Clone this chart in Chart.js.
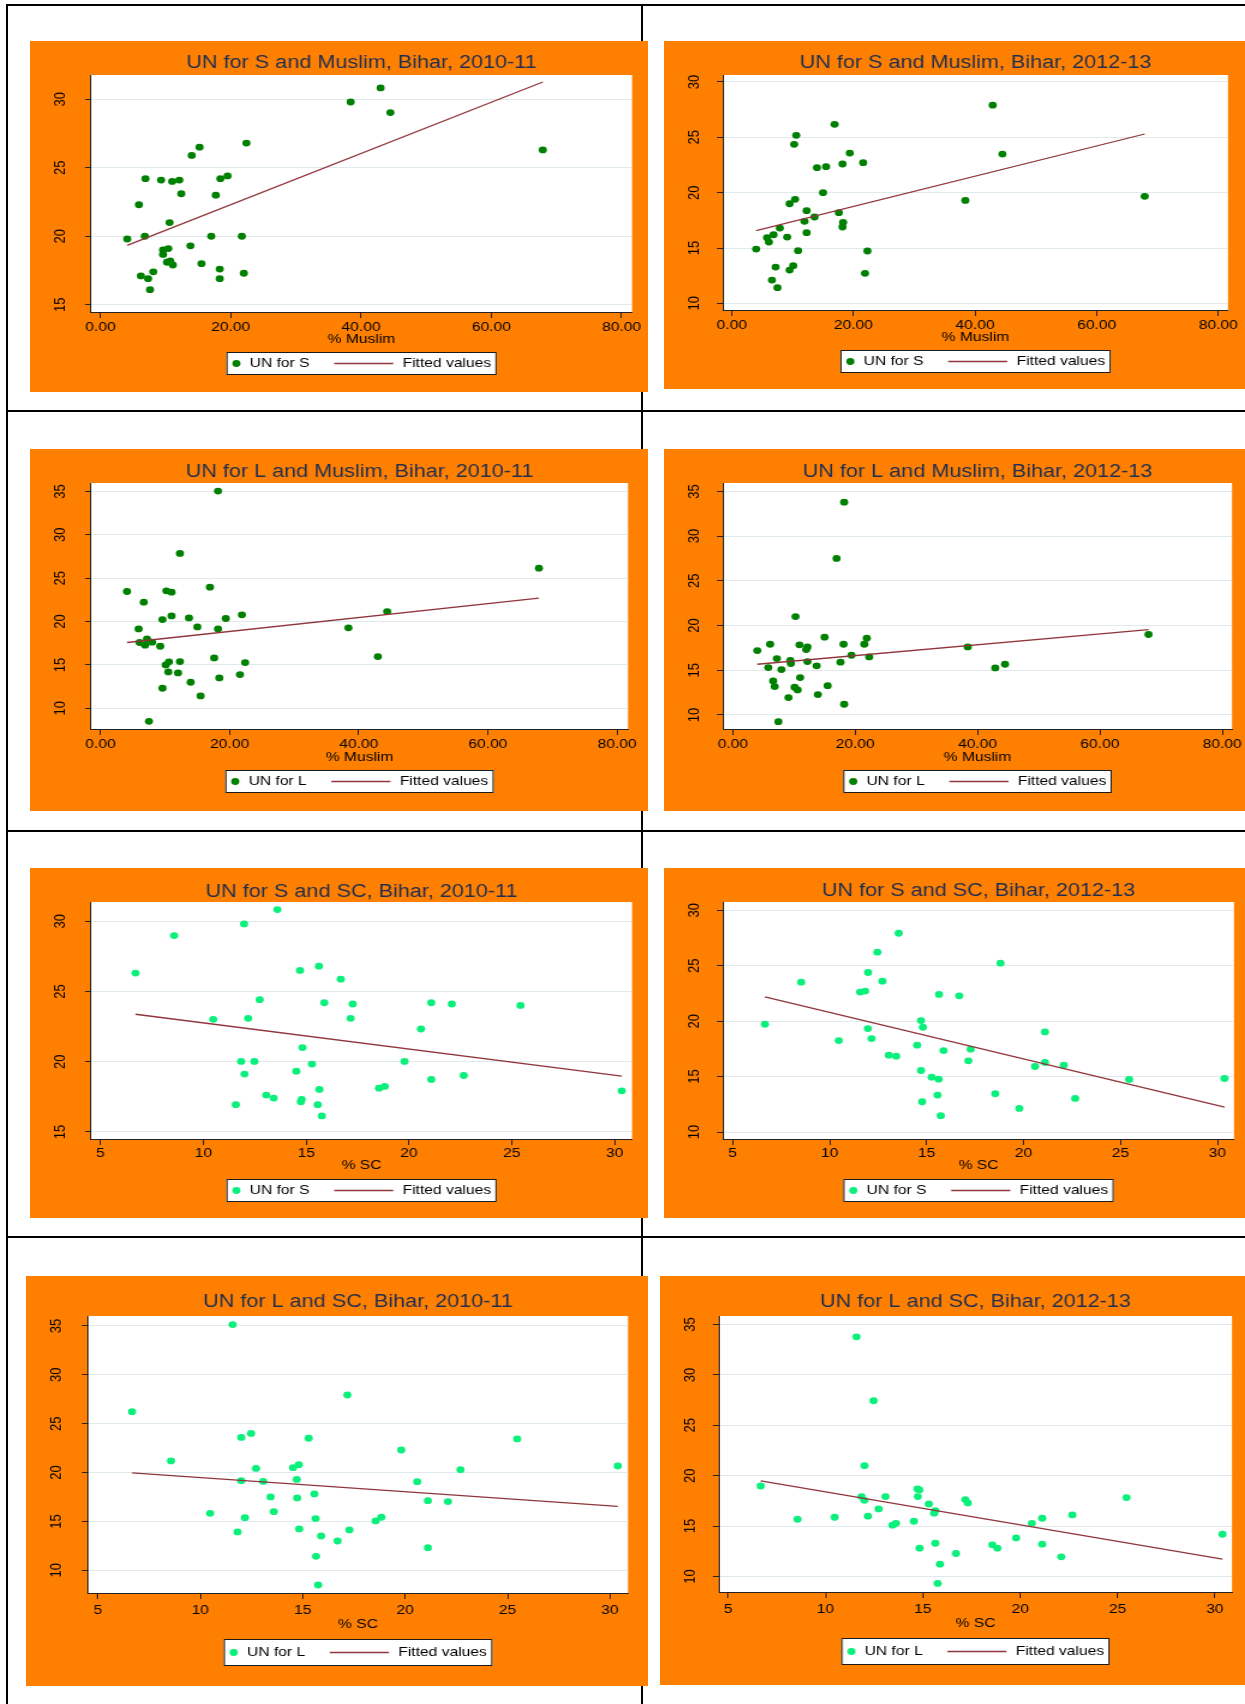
<!DOCTYPE html>
<html>
<head>
<meta charset="utf-8">
<title>Bihar: UN vs % Muslim and % SC</title>
<script src="https://cdn.jsdelivr.net/npm/chart.js@4/dist/chart.umd.min.js"></script>
<style>
  html, body { margin: 0; padding: 0; background: #fff; }
  #page { position: relative; width: 1245px; height: 1704px; overflow: hidden; background: #fff; }
  .rule { position: absolute; background: #000; }
</style>
</head>
<body>
<div id="page">
  <!-- table grid behind the panels -->
  <div class="rule" style="left:6px;top:4px;width:1239px;height:2px"></div>
  <div class="rule" style="left:6px;top:410px;width:1239px;height:2px"></div>
  <div class="rule" style="left:6px;top:830px;width:1239px;height:2px"></div>
  <div class="rule" style="left:6px;top:1236px;width:1239px;height:2px"></div>
  <div class="rule" style="left:6px;top:4px;width:2px;height:1700px"></div>
  <div class="rule" style="left:641px;top:4px;width:2px;height:1700px"></div>
</div>
<script>
// ---------- data ----------
const muslimTicks = [0, 20, 40, 60, 80];
const scTicks = [5, 10, 15, 20, 25, 30];
const yTicks15to30 = [15, 20, 25, 30];
const yTicks10to30 = [10, 15, 20, 25, 30];
const yTicks10to35 = [10, 15, 20, 25, 30, 35];

// UN for S vs % Muslim, 2010-11
const sMuslim1011X = [43.0,38.4,44.5,22.4,67.9,15.2,14.0,6.9,9.3,11.0,12.1,18.4,19.5,12.4,17.7,5.9,10.6,6.8,4.1,17.0,21.7,13.8,9.6,10.4,9.6,10.2,10.7,11.1,15.5,18.3,8.1,6.2,7.3,18.3,22.0,7.6];
const sMuslim1011Y = [30.83,29.8,29.03,26.8,26.3,26.5,25.9,24.2,24.1,24.0,24.1,24.2,24.4,23.1,23.0,22.3,21.0,20.0,19.8,20.0,20.0,19.3,19.0,19.1,18.67,18.1,18.2,17.9,18.0,17.6,17.4,17.1,16.9,16.9,17.3,16.1];
const sMuslim1011FitX = [4.1, 67.9];
const sMuslim1011FitY = [19.33, 31.26];

// UN for S vs % Muslim, 2012-13
const sMuslim1213X = [42.9,16.9,10.6,10.25,44.5,19.4,21.6,18.2,14.0,15.5,15.0,38.4,67.9,10.4,9.5,12.3,17.6,13.6,11.95,18.3,18.2,7.9,12.3,6.86,5.8,6.1,9.1,4.0,10.9,22.3,7.2,10.1,9.5,6.6,21.9,7.5];
const sMuslim1213Y = [27.9,26.17,25.18,24.37,23.49,23.58,22.71,22.59,22.26,22.35,20.0,19.3,19.67,19.4,19.0,18.37,18.19,17.8,17.41,17.32,16.9,16.8,16.39,16.2,15.93,15.54,15.99,14.9,14.76,14.73,13.28,13.4,13.01,12.1,12.71,11.42];
const sMuslim1213FitX = [4.0, 67.9];
const sMuslim1213FitY = [16.57, 25.3];

// UN for L vs % Muslim, 2010-11
const lMuslim1011X = [18.2,12.3,67.9,16.95,4.1,10.2,11.0,6.7,21.9,11.0,44.4,13.7,9.6,19.4,15.0,5.9,18.2,38.4,7.2,6.05,6.9,8.0,9.25,17.6,42.96,10.1,10.6,12.3,22.4,10.5,12.0,21.6,18.4,13.96,9.6,15.5,7.5];
const lMuslim1011Y = [35.04,27.85,26.15,23.96,23.46,23.54,23.38,22.23,20.77,20.65,21.15,20.42,20.23,20.35,19.38,19.15,19.15,19.27,18.0,17.58,17.27,17.62,17.15,15.8,15.96,15.0,15.35,15.38,15.27,14.19,14.08,13.88,13.5,13.0,12.31,11.42,8.5];
const lMuslim1011FitX = [4.1, 67.9];
const lMuslim1011FitY = [17.58, 22.7];

// UN for L vs % Muslim, 2012-13
const lMuslim1213X = [18.2,16.96,10.25,67.95,15.0,21.9,6.1,10.9,18.1,21.5,38.4,4.0,12.2,12.0,19.4,7.2,9.4,22.3,9.5,12.2,17.6,13.7,5.8,7.95,42.9,44.5,11.0,6.6,6.85,10.1,10.6,15.5,13.9,9.1,18.2,7.45];
const lMuslim1213Y = [33.8,27.5,21.0,19.0,18.7,18.58,17.91,17.84,17.91,17.91,17.61,17.2,17.61,17.31,16.68,16.3,16.1,16.49,15.75,15.97,15.9,15.49,15.3,15.08,15.26,15.67,14.18,13.8,13.17,13.1,12.8,13.28,12.28,11.94,11.2,9.25];
const lMuslim1213FitX = [4.0, 67.95];
const lMuslim1213FitY = [15.67, 19.55];

// UN for S vs % SC, 2010-11
const sSC1011X = [13.6,11.98,8.58,6.7,14.7,15.62,16.68,12.74,15.88,17.26,21.08,22.08,25.42,10.48,12.18,17.16,20.58,14.82,11.84,12.48,19.78,15.28,14.52,12.0,21.08,22.66,15.64,18.54,18.82,30.34,13.06,13.42,14.78,14.74,11.58,15.56,15.76];
const sSC1011Y = [30.83,29.81,28.98,26.31,26.5,26.8,25.88,24.42,24.2,24.11,24.2,24.11,24.01,23.02,23.09,23.09,22.33,21.01,20.02,20.02,20.02,19.83,19.33,19.12,18.74,19.02,18.03,18.12,18.24,17.93,17.63,17.41,17.32,17.15,16.94,16.94,16.14];
const sSC1011FitX = [6.7, 30.34];
const sSC1011FitY = [23.38, 18.98];

// UN for S vs % SC, 2012-13
const sSC1213X = [13.56,12.46,18.81,11.98,8.53,12.72,11.57,11.83,15.64,16.68,6.66,14.71,14.81,11.97,21.1,10.47,12.16,14.51,15.87,17.27,13.05,13.43,17.15,21.1,20.59,22.07,14.71,15.26,15.62,25.44,30.36,15.56,18.54,22.66,14.77,19.78,15.73];
const sSC1213Y = [27.93,26.22,25.23,24.39,23.52,23.61,22.62,22.71,22.41,22.29,19.72,20.05,19.45,19.33,19.03,18.25,18.43,17.83,17.35,17.47,16.93,16.84,16.42,16.27,15.91,16.03,15.55,14.95,14.77,14.74,14.83,13.33,13.45,13.03,12.73,12.13,11.47];
const sSC1213FitX = [6.66, 30.36];
const sSC1213FitY = [22.2, 12.25];

// UN for L vs % SC, 2010-11
const lSC1011X = [11.58,17.18,6.67,12.48,12.0,15.29,25.47,19.81,8.57,14.81,14.53,12.72,30.38,22.7,12.0,13.07,14.71,20.59,15.57,13.43,14.73,21.11,22.09,10.48,13.59,12.18,15.63,18.56,18.84,11.82,14.83,17.28,15.9,16.7,21.11,15.65,15.75];
const lSC1011Y = [35.14,27.94,26.23,24.01,23.6,23.51,23.44,22.31,21.19,20.81,20.5,20.43,20.68,20.3,19.17,19.1,19.3,19.07,17.82,17.51,17.41,17.13,17.03,15.83,16.0,15.39,15.29,15.05,15.43,13.93,14.24,14.13,13.51,13.0,12.32,11.43,8.5];
const lSC1011FitX = [6.67, 30.38];
const lSC1011FitY = [19.96, 16.55];

// UN for L vs % SC, 2012-13
const lSC1213X = [11.59,12.47,12.0,6.67,14.72,14.82,11.85,13.08,14.74,12.0,17.18,17.31,25.46,15.31,12.73,15.64,15.58,22.68,12.18,10.47,8.56,21.13,14.54,13.62,13.44,20.6,30.39,19.79,15.64,18.57,21.13,14.83,18.83,16.7,22.11,15.88,15.76];
const lSC1213Y = [33.78,27.44,21.0,18.98,18.69,18.59,17.93,17.93,17.93,17.56,17.63,17.3,17.83,17.2,16.7,16.54,16.28,16.11,15.98,15.88,15.68,15.78,15.48,15.28,15.09,15.28,14.19,13.83,13.3,13.14,13.21,12.81,12.81,12.28,11.95,11.22,9.31];
const lSC1213FitX = [6.67, 30.39];
const lSC1213FitY = [19.48, 11.72];

// ---------- styling ----------
const FONT = '"Liberation Sans", Arial, Helvetica, sans-serif';
const ORANGE = '#ff8000';
const DARK_GREEN = '#008000';
const BRIGHT_GREEN = '#0bef7c';
const MAROON = '#90353b';
const TITLE_COLOR = '#1e2d52';
const GRID = '#e0e9eb';
const AXIS = '#222222';
const STRETCH = 1.2;          // panels are drawn slightly wide
const TITLE_SIZE = 18;
const TEXT_SIZE = 13;
const X_TICK_LEN = 6;
const Y_TICK_LEN = 5;
const POINT_R = 3.4;

// ---------- panel layout (page pixels) ----------
const panels = [
  { title: 'UN for S and Muslim, Bihar, 2010-11', xTitle: '% Muslim', series: 'UN for S', xs: sMuslim1011X, ys: sMuslim1011Y, fitX: sMuslim1011FitX, fitY: sMuslim1011FitY, color: DARK_GREEN, xTicks: muslimTicks, yTicks: yTicks15to30, decimals: 2,
    box: [30, 41, 618, 351], plot: [91, 75, 632, 312], titleY: 63, tickY: 327, axisTitleY: 339, legend: [352, 375], yLabelX: 60, xRange: [-1.46, 81.6], yRange: [14.47, 31.77] },
  { title: 'UN for S and Muslim, Bihar, 2012-13', xTitle: '% Muslim', series: 'UN for S', xs: sMuslim1213X, ys: sMuslim1213Y, fitX: sMuslim1213FitX, fitY: sMuslim1213FitY, color: DARK_GREEN, xTicks: muslimTicks, yTicks: yTicks10to30, decimals: 2,
    box: [664, 41, 581, 348], plot: [723, 75, 1228, 310], titleY: 63, tickY: 325, axisTitleY: 337, legend: [350, 373], yLabelX: 694, xRange: [-1.45, 81.6], yRange: [9.40, 30.63] },
  { title: 'UN for L and Muslim, Bihar, 2010-11', xTitle: '% Muslim', series: 'UN for L', xs: lMuslim1011X, ys: lMuslim1011Y, fitX: lMuslim1011FitX, fitY: lMuslim1011FitY, color: DARK_GREEN, xTicks: muslimTicks, yTicks: yTicks10to35, decimals: 2,
    box: [30, 449, 618, 362], plot: [91, 483, 628, 729], titleY: 472, tickY: 744, axisTitleY: 757, legend: [770, 793], yLabelX: 61, xRange: [-1.47, 81.7], yRange: [7.61, 35.97] },
  { title: 'UN for L and Muslim, Bihar, 2012-13', xTitle: '% Muslim', series: 'UN for L', xs: lMuslim1213X, ys: lMuslim1213Y, fitX: lMuslim1213FitX, fitY: lMuslim1213FitY, color: DARK_GREEN, xTicks: muslimTicks, yTicks: yTicks10to35, decimals: 2,
    box: [664, 449, 581, 362], plot: [723, 483, 1235, 729], titleY: 472, tickY: 744, axisTitleY: 757, legend: [770, 793], yLabelX: 694, xRange: [-1.6, 81.6], yRange: [8.43, 35.94] },
  { title: 'UN for S and SC, Bihar, 2010-11', xTitle: '% SC', series: 'UN for S', xs: sSC1011X, ys: sSC1011Y, fitX: sSC1011FitX, fitY: sSC1011FitY, color: BRIGHT_GREEN, xTicks: scTicks, yTicks: yTicks15to30, decimals: 0,
    box: [30, 868, 618, 350], plot: [91, 902, 632, 1139], titleY: 892, tickY: 1153, axisTitleY: 1165, legend: [1179, 1202], yLabelX: 61, xRange: [4.54, 30.84], yRange: [14.5, 31.37] },
  { title: 'UN for S and SC, Bihar, 2012-13', xTitle: '% SC', series: 'UN for S', xs: sSC1213X, ys: sSC1213Y, fitX: sSC1213FitX, fitY: sSC1213FitY, color: BRIGHT_GREEN, xTicks: scTicks, yTicks: yTicks10to30, decimals: 0,
    box: [664, 868, 581, 350], plot: [723, 902, 1234, 1139], titleY: 891, tickY: 1153, axisTitleY: 1165, legend: [1179, 1202], yLabelX: 694, xRange: [4.5, 30.85], yRange: [9.37, 30.75] },
  { title: 'UN for L and SC, Bihar, 2010-11', xTitle: '% SC', series: 'UN for L', xs: lSC1011X, ys: lSC1011Y, fitX: lSC1011FitX, fitY: lSC1011FitY, color: BRIGHT_GREEN, xTicks: scTicks, yTicks: yTicks10to35, decimals: 0,
    box: [26, 1276, 622, 410], plot: [88, 1316, 628, 1593], titleY: 1302, tickY: 1610, axisTitleY: 1624, legend: [1639, 1666], yLabelX: 56, xRange: [4.52, 30.88], yRange: [7.68, 36.02] },
  { title: 'UN for L and SC, Bihar, 2012-13', xTitle: '% SC', series: 'UN for L', xs: lSC1213X, ys: lSC1213Y, fitX: lSC1213FitX, fitY: lSC1213FitY, color: BRIGHT_GREEN, xTicks: scTicks, yTicks: yTicks10to35, decimals: 0,
    box: [660, 1276, 585, 409], plot: [719, 1316, 1232, 1592], titleY: 1302, tickY: 1609, axisTitleY: 1623, legend: [1638, 1665], yLabelX: 690, xRange: [4.53, 30.88], yRange: [8.46, 35.85] }
];

// ---------- plugins ----------
// orange panel with a white plot region
const panelBackground = {
  id: 'panelBackground',
  beforeDraw(chart) {
    const { ctx, chartArea: a } = chart;
    ctx.save();
    ctx.fillStyle = ORANGE;
    ctx.fillRect(0, 0, chart.width, chart.height);
    ctx.fillStyle = '#ffffff';
    ctx.fillRect(a.left, a.top, a.right - a.left, a.bottom - a.top);
    ctx.restore();
  }
};

// boxed legend below the axis title: marker + label, line + label
const legendBox = {
  id: 'legendBox',
  afterDraw(chart, args, o) {
    const ctx = chart.ctx;
    const [pts, fit] = chart.data.datasets;
    ctx.save();
    ctx.font = `${TEXT_SIZE}px ${FONT}`;
    const w1 = ctx.measureText(pts.label).width;
    const w2 = ctx.measureText(fit.label).width;
    const total = o.padLeft + o.markGap + w1 + o.itemGap + o.lineLen + o.lineGap + w2 + o.padRight;
    const mid = (chart.chartArea.left + chart.chartArea.right) / 2;
    const x0 = mid - total / 2;
    const h = o.bottom - o.top;
    const cy = o.top + h / 2;
    ctx.fillStyle = '#ffffff';
    ctx.fillRect(x0, o.top, total, h);
    ctx.strokeStyle = '#1a1a1a';
    ctx.lineWidth = 1;
    ctx.strokeRect(x0 + 0.5, o.top + 0.5, total - 1, h - 1);
    ctx.fillStyle = pts.pointBackgroundColor;
    ctx.beginPath();
    ctx.arc(x0 + o.padLeft, cy, pts.pointRadius, 0, Math.PI * 2);
    ctx.fill();
    ctx.fillStyle = '#000000';
    ctx.textAlign = 'left';
    ctx.textBaseline = 'middle';
    let x = x0 + o.padLeft + o.markGap;
    ctx.fillText(pts.label, x, cy);
    x += w1 + o.itemGap;
    ctx.strokeStyle = fit.borderColor;
    ctx.lineWidth = fit.borderWidth;
    ctx.beginPath();
    ctx.moveTo(x, cy);
    ctx.lineTo(x + o.lineLen, cy);
    ctx.stroke();
    x += o.lineLen + o.lineGap;
    ctx.fillText(fit.label, x, cy);
    ctx.restore();
  }
};

const measureCtx = document.createElement('canvas').getContext('2d');
function textWidth(text) {
  measureCtx.font = `${TEXT_SIZE}px ${FONT}`;
  return measureCtx.measureText(text).width;
}

Chart.defaults.font.family = FONT;
Chart.defaults.color = '#000000';

const page = document.getElementById('page');

panels.forEach(cfg => {
  const [px, py, pw, ph] = cfg.box;
  const cw = Math.round(pw / STRETCH);
  const sx = pw / cw;
  const toCx = v => (v - px) / sx;

  const plotL = toCx(cfg.plot[0]);
  const plotR = toCx(cfg.plot[2]);
  const plotT = cfg.plot[1] - py;
  const plotB = cfg.plot[3] - py;

  const titlePadTop = (cfg.titleY - py) - TITLE_SIZE / 2;
  const titlePadBottom = plotT - titlePadTop - TITLE_SIZE;
  const xTickPad = (cfg.tickY - cfg.plot[3]) - X_TICK_LEN - TEXT_SIZE / 2;
  const xAxisH = (cfg.axisTitleY - cfg.plot[3]) + TEXT_SIZE / 2;
  const padBottom = ph - plotB - xAxisH;
  const widest = Math.max(...cfg.yTicks.map(v => textWidth(String(v))));
  const yTickPad = (plotL - toCx(cfg.yLabelX)) - Y_TICK_LEN - widest / 2;

  const canvas = document.createElement('canvas');
  canvas.width = cw;
  canvas.height = ph;
  canvas.style.cssText = `position:absolute;left:${px}px;top:${py}px;width:${pw}px;height:${ph}px;`;
  page.appendChild(canvas);

  const tickFont = { family: FONT, size: TEXT_SIZE, lineHeight: 1 };

  new Chart(canvas, {
    type: 'scatter',
    data: {
      datasets: [
        {
          label: cfg.series,
          data: cfg.xs.map((x, i) => ({ x, y: cfg.ys[i] })),
          pointRadius: POINT_R,
          pointHoverRadius: POINT_R,
          pointBackgroundColor: cfg.color,
          pointBorderWidth: 0,
          borderWidth: 0,
          order: 1
        },
        {
          label: 'Fitted values',
          data: cfg.fitX.map((x, i) => ({ x, y: cfg.fitY[i] })),
          showLine: true,
          pointRadius: 0,
          pointHoverRadius: 0,
          borderColor: MAROON,
          borderWidth: 1.3,
          order: 0
        }
      ]
    },
    options: {
      responsive: false,
      animation: false,
      devicePixelRatio: 1,
      events: [],
      layout: { padding: { left: 0, right: cw - plotR, top: 0, bottom: padBottom } },
      plugins: {
        legend: { display: false },
        tooltip: { enabled: false },
        title: {
          display: true,
          text: cfg.title,
          fullSize: false,
          color: TITLE_COLOR,
          font: { family: FONT, size: TITLE_SIZE, weight: 'normal', lineHeight: 1 },
          padding: { top: titlePadTop, bottom: titlePadBottom }
        },
        legendBox: {
          top: cfg.legend[0] - py,
          bottom: cfg.legend[1] - py,
          padLeft: 8.3, markGap: 11.1, itemGap: 20.6, lineLen: 49.2, lineGap: 7.8, padRight: 4.6
        }
      },
      scales: {
        x: {
          type: 'linear',
          position: 'bottom',
          min: cfg.xRange[0],
          max: cfg.xRange[1],
          afterBuildTicks: s => { s.ticks = cfg.xTicks.map(v => ({ value: v })); },
          afterFit: s => { s.height = xAxisH; },
          ticks: {
            autoSkip: false, maxRotation: 0, minRotation: 0,
            padding: xTickPad, color: '#000000', font: tickFont,
            callback: v => Number(v).toFixed(cfg.decimals)
          },
          grid: { display: true, drawOnChartArea: false, drawTicks: true, tickLength: X_TICK_LEN, tickColor: AXIS },
          border: { display: true, color: AXIS, width: 1 },
          title: {
            display: true, text: cfg.xTitle, color: '#000000',
            font: { family: FONT, size: TEXT_SIZE, lineHeight: 1 },
            padding: { top: 0, bottom: 0 }
          }
        },
        y: {
          type: 'linear',
          position: 'left',
          min: cfg.yRange[0],
          max: cfg.yRange[1],
          afterBuildTicks: s => { s.ticks = cfg.yTicks.map(v => ({ value: v })); },
          afterFit: s => { s.width = plotL; },
          ticks: {
            autoSkip: false, minRotation: 90, maxRotation: 90, crossAlign: 'center',
            padding: yTickPad, color: '#000000', font: tickFont,
            callback: v => String(v)
          },
          grid: { color: GRID, lineWidth: 1, drawTicks: true, tickLength: Y_TICK_LEN, tickColor: AXIS },
          border: { display: true, color: AXIS, width: 1 }
        }
      }
    },
    plugins: [panelBackground, legendBox]
  });
});
</script>
</body>
</html>
